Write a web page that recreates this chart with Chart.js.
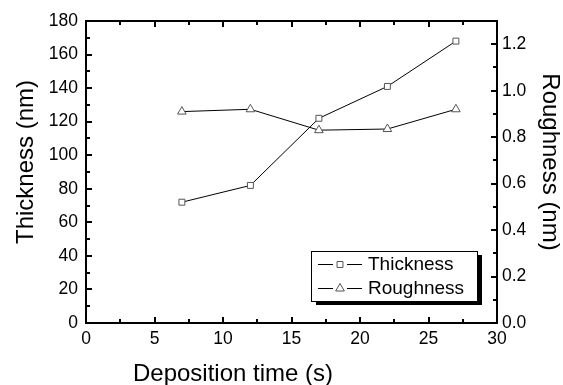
<!DOCTYPE html>
<html>
<head>
<meta charset="utf-8">
<script src="https://cdn.jsdelivr.net/npm/chart.js@4.4.0/dist/chart.umd.min.js"></script>
<style>
  body { margin: 0; background: #fff; }
  canvas { display: block; }
</style>
</head>
<body>
<canvas id="chart" width="563" height="385"></canvas>
<script>
// data
const times = [7, 12, 17, 22, 27];
const thickness = [72, 82, 122, 141, 168];
const roughness = [0.91, 0.92, 0.83, 0.835, 0.92];
const xTicks = [0, 5, 10, 15, 20, 25, 30];
const seriesNames = ['Thickness', 'Roughness'];

const FONT = '"Liberation Sans", Arial, sans-serif';

// frame, inward ticks, axis titles and the boxed legend
const decor = {
  id: 'decor',
  afterDraw(chart) {
    const ctx = chart.ctx;
    const a = chart.chartArea;
    const x = chart.scales.x, y = chart.scales.y, y1 = chart.scales.y1;
    ctx.save();
    ctx.strokeStyle = '#000';
    ctx.lineWidth = 2;
    ctx.lineCap = 'butt';

    ctx.beginPath();
    // x ticks top + bottom
    for (let v = 0; v <= 30; v += 2.5) {
      const px = Math.round(x.getPixelForValue(v));
      const len = v % 5 === 0 ? 6 : 4;
      ctx.moveTo(px, a.bottom); ctx.lineTo(px, a.bottom - len);
      ctx.moveTo(px, a.top); ctx.lineTo(px, a.top + len);
    }
    // left ticks
    for (let v = 0; v <= 180; v += 10) {
      const py = Math.round(y.getPixelForValue(v));
      const len = v % 20 === 0 ? 6 : 4;
      ctx.moveTo(a.left, py); ctx.lineTo(a.left + len, py);
    }
    // right ticks
    for (let k = 0; k <= 13; k++) {
      const py = Math.round(y1.getPixelForValue(k / 10));
      const len = k % 2 === 0 ? 6 : 4;
      ctx.moveTo(a.right, py); ctx.lineTo(a.right - len, py);
    }
    ctx.stroke();
    ctx.strokeRect(a.left, a.top, a.right - a.left, a.bottom - a.top);

    // axis titles
    ctx.fillStyle = '#000';
    ctx.font = '24px ' + FONT;
    ctx.textAlign = 'center';
    ctx.textBaseline = 'alphabetic';
    ctx.fillText('Deposition time (s)', 233, 381);

    ctx.save();
    ctx.translate(33, 162);
    ctx.rotate(-Math.PI / 2);
    ctx.fillText('Thickness (nm)', 0, 0);
    ctx.restore();

    ctx.save();
    ctx.translate(543, 162);
    ctx.rotate(Math.PI / 2);
    ctx.fillText('Roughness (nm)', 0, 0);
    ctx.restore();

    // legend box with drop shadow
    const bx = 311, by = 251, bw = 166, bh = 50;
    ctx.fillStyle = '#000';
    ctx.fillRect(bx + 5, by + 4, bw, bh);
    ctx.fillStyle = '#fff';
    ctx.fillRect(bx, by, bw, bh);
    ctx.lineWidth = 1;
    ctx.strokeStyle = '#000';
    ctx.strokeRect(bx + 0.5, by + 0.5, bw, bh);

    const rows = [264, 288];
    chart.data.datasets.forEach((ds, i) => {
      const ry = rows[i];
      ctx.strokeStyle = '#000';
      ctx.lineWidth = 1;
      ctx.beginPath();
      ctx.moveTo(318, ry + 0.5); ctx.lineTo(333, ry + 0.5);
      ctx.moveTo(347, ry + 0.5); ctx.lineTo(362, ry + 0.5);
      ctx.stroke();
      ctx.fillStyle = '#fff';
      ctx.strokeStyle = ds.pointBorderColor;
      Chart.helpers.drawPoint(ctx, {
        pointStyle: ds.pointStyle, radius: ds.pointRadius, borderWidth: 1, rotation: 0
      }, 340, ry + 0.5);
      ctx.fillStyle = '#000';
      ctx.font = '19px ' + FONT;
      ctx.textAlign = 'left';
      ctx.textBaseline = 'middle';
      ctx.fillText(ds.label, 368, ry + 1);
    });
    ctx.restore();
  }
};

const toPoints = (ys) => times.map((t, i) => ({ x: t, y: ys[i] }));
const tickFont = { size: 17.5, family: FONT };

new Chart(document.getElementById('chart'), {
  type: 'scatter',
  data: {
    datasets: [
      {
        label: seriesNames[0],
        data: toPoints(thickness),
        yAxisID: 'y',
        showLine: true,
        borderColor: '#000',
        borderWidth: 1,
        pointStyle: 'rect',
        pointRadius: 4.2,
        pointBorderWidth: 1,
        pointBorderColor: '#555',
        pointBackgroundColor: '#fff'
      },
      {
        label: seriesNames[1],
        data: toPoints(roughness),
        yAxisID: 'y1',
        showLine: true,
        borderColor: '#000',
        borderWidth: 1,
        pointStyle: 'triangle',
        pointRadius: 5,
        pointBorderWidth: 1,
        pointBorderColor: '#555',
        pointBackgroundColor: '#fff'
      }
    ]
  },
  options: {
    responsive: false,
    animation: false,
    devicePixelRatio: 1,
    layout: { padding: { top: 21, left: 0, right: 0, bottom: 0 } },
    plugins: {
      legend: { display: false },
      tooltip: { enabled: false }
    },
    scales: {
      x: {
        type: 'linear',
        min: 0, max: 30,
        grid: { display: false, drawTicks: false },
        border: { display: false },
        afterBuildTicks: (s) => { s.ticks = xTicks.map(v => ({ value: v })); },
        ticks: { color: '#000', font: tickFont, padding: 6, maxRotation: 0 },
        afterFit: (s) => { s.height = 62; }
      },
      y: {
        position: 'left',
        min: 0, max: 180,
        grid: { display: false, drawTicks: false },
        border: { display: false },
        ticks: { stepSize: 20, color: '#000', font: tickFont, padding: 8 },
        afterFit: (s) => { s.width = 86; }
      },
      y1: {
        position: 'right',
        min: 0, max: 1.3,
        grid: { display: false, drawTicks: false },
        border: { display: false },
        afterBuildTicks: (s) => { s.ticks = [0, 0.2, 0.4, 0.6, 0.8, 1.0, 1.2].map(v => ({ value: v })); },
        ticks: { color: '#000', font: tickFont, padding: 5,
                 callback: (v) => Number(v).toFixed(1) },
        afterFit: (s) => { s.width = 66; }
      }
    }
  },
  plugins: [decor]
});
</script>
</body>
</html>
